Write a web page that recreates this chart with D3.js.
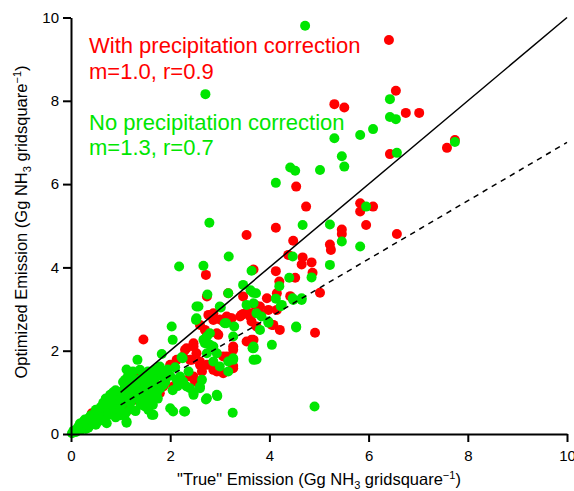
<!DOCTYPE html>
<html>
<head>
<meta charset="utf-8">
<title>Optimized vs true emission</title>
<script src="https://cdn.jsdelivr.net/npm/d3@7"></script>
<style>
  body { margin: 0; background: #fff; }
  text { font-family: Arial, "Liberation Sans", sans-serif; }
  .axis path, .axis line { stroke: #000; stroke-width: 2; }
  .axis text { font-size: 15px; fill: #000; }
</style>
</head>
<body>
<div id="chart"></div>
<script>
// axis ticks
var xTicks = [0, 2, 4, 6, 8, 10];
var yTicks = [0, 2, 4, 6, 8, 10];

// fit lines (x ends, y ends)
var lineX = [1, 10];
var solidY = [1, 10];
var dashedY = [0.7, 7];

// with precipitation correction (red)
var redPts = [
  [6.41,9.46],[6.55,8.24],[6.75,7.71],[7.02,7.71],[5.31,7.92],[5.51,7.84],[6.43,6.72],[7.58,6.87],[7.74,7.06],[6.57,4.80],
  [4.54,5.94],[4.74,5.46],[5.83,5.54],[5.83,5.34],[6.09,5.46],[5.95,5.02],[5.46,4.91],[5.46,4.80],[5.22,4.55],[5.24,4.42],
  [3.54,4.78],[4.13,4.95],[4.48,4.64],[4.38,4.30],[4.67,4.24],[4.65,4.07],[4.85,4.12],[4.87,3.87],[4.13,3.91],[2.72,3.82],
  [4.52,3.75],[4.20,3.66],[5.02,3.39],[3.17,3.38],[3.47,3.30],[3.95,3.26],[3.81,3.06],[3.47,2.88],[4.42,3.31],[4.15,3.38],
  [2.84,2.86],[3.00,2.75],[3.21,2.78],[3.41,2.82],[3.61,2.82],[3.74,2.58],[4.05,2.62],[4.21,2.50],[2.60,2.62],[2.70,2.50],
  [3.68,2.26],[4.92,2.43],[3.27,2.10],[2.97,2.38],[3.68,3.95],[1.46,2.27],[2.74,3.30],[2.87,2.90],[3.14,2.82],[3.54,2.90],
  [2.47,2.18],[2.33,2.06],[2.53,1.94],[2.26,1.86],[2.43,1.78],[2.60,1.74],[2.74,1.66],[2.13,1.78],[2.00,1.66],[1.86,1.50],
  [1.73,1.38],[3.27,2.02],[3.07,1.86],[3.27,1.58],[2.87,1.54],[3.07,1.46],[3.54,2.22],[3.64,2.70],[3.71,3.10],[2.74,2.42],
  [2.94,2.42],[1.32,1.42],[1.19,0.98],[1.26,0.82],[0.45,0.50],[2.40,1.38],[2.20,1.22],[4.08,2.62],[2.47,2.10],[2.40,1.78],
  [2.60,1.66],[2.64,1.50],[2.47,1.38],[2.50,1.26],[2.94,1.50],[3.27,1.63],[3.14,1.86],[3.64,2.26],[2.77,2.86],[2.87,2.74],
  [3.07,2.70],[3.24,2.78],[3.44,2.86],[3.61,2.90],[3.81,2.90],[3.98,2.98],[4.15,2.98],[1.12,0.91],[0.42,0.50],[1.19,0.62],
  [2.06,1.14],[1.86,1.14],[1.79,0.98],[2.30,2.02],[1.16,0.58],[1.55,1.25],[1.65,1.05],[1.40,1.15],[1.00,0.85],[0.80,0.70],
  [0.60,0.55],[1.10,1.00],[0.90,0.75],[0.30,0.25],[0.20,0.18],[0.15,0.10]
];

// no precipitation correction (green)
var greenPts = [
  [4.72,9.80],[2.71,8.16],[6.43,8.04],[6.43,7.61],[6.55,7.56],[6.57,6.75],[7.74,7.01],[5.31,7.10],[5.83,7.18],[6.09,7.32],
  [5.46,6.67],[5.51,6.42],[4.42,6.40],[4.52,6.32],[5.02,6.34],[4.13,6.03],[2.79,5.07],[4.67,5.02],[5.22,5.03],[5.95,5.46],
  [5.46,4.62],[5.83,4.50],[3.18,4.26],[4.47,4.26],[5.22,4.06],[4.85,3.76],[4.40,3.75],[2.67,4.04],[2.18,4.02],[3.64,3.92],
  [3.47,3.58],[3.67,3.39],[3.62,3.45],[4.20,3.55],[4.23,3.07],[4.13,3.25],[4.65,3.26],[4.47,3.26],[2.75,3.35],[3.00,3.06],
  [3.13,2.66],[3.29,2.58],[3.98,2.67],[3.81,2.50],[3.84,2.82],[4.54,2.58],[4.05,2.14],[3.68,2.10],[3.27,2.34],[2.80,2.42],
  [2.67,2.26],[3.17,3.38],[3.73,3.38],[3.68,3.14],[3.54,3.10],[3.74,2.90],[2.53,3.06],[2.53,2.78],[3.10,2.66],[2.03,2.58],
  [2.05,2.26],[2.74,2.34],[2.80,2.14],[1.83,1.92],[2.23,1.84],[3.27,1.78],[3.68,2.06],[3.68,1.78],[1.34,1.78],[1.12,1.55],
  [1.39,1.54],[1.59,1.30],[1.86,1.38],[2.13,1.30],[2.33,1.14],[2.60,1.14],[2.47,0.98],[2.74,0.86],[2.94,0.94],[2.00,0.62],
  [2.06,0.54],[2.28,0.54],[3.26,0.51],[1.39,0.94],[1.12,0.27],[0.79,0.94],[0.75,0.74],[1.63,0.46],[1.49,0.66],[1.86,1.18],
  [1.09,1.30],[2.57,3.06],[3.02,3.04],[4.25,3.10],[4.48,3.22],[4.65,3.22],[2.52,2.74],[3.98,2.70],[4.54,2.56],[2.70,2.18],
  [2.87,2.10],[2.74,1.94],[2.94,1.94],[2.87,1.74],[3.00,1.62],[3.17,1.74],[3.27,1.82],[3.17,1.50],[3.66,2.06],[3.74,1.79],
  [2.25,1.82],[2.37,1.50],[2.26,1.26],[2.40,1.10],[2.47,0.94],[2.64,1.30],[2.60,1.10],[2.72,0.83],[2.95,0.91],[2.30,0.54],
  [4.91,0.66],[1.79,1.62],[1.86,1.46],[1.73,1.38],[2.20,1.38],[0.72,0.74],[0.79,0.62],[1.22,1.10],[1.53,0.94],[1.73,0.98],
  [1.56,0.58],[1.12,0.30],[0.99,0.66],[1.59,0.90],[1.66,0.46],[0.72,0.26],[0.50,0.22],[0.30,0.12],[0.90,0.40],[1.00,0.45],
  [0.02,0.02],[0.05,0.04],[0.08,0.06],[0.10,0.10],[0.12,0.08],[0.15,0.12],[0.18,0.15],[0.20,0.20],[0.22,0.16],[0.25,0.22],
  [0.28,0.20],[0.30,0.28],[0.32,0.24],[0.35,0.30],[0.38,0.27],[0.40,0.35],[0.42,0.30],[0.45,0.40],[0.48,0.34],[0.50,0.45],
  [0.52,0.38],[0.55,0.50],[0.58,0.42],[0.60,0.55],[0.62,0.46],[0.65,0.60],[0.68,0.50],[0.70,0.65],[0.72,0.55],[0.75,0.58],
  [0.78,0.70],[0.80,0.62],[0.82,0.80],[0.85,0.66],[0.88,0.90],[0.90,0.72],[0.92,0.85],[0.95,0.78],[0.98,1.00],[1.00,0.82],
  [1.02,0.70],[1.05,0.90],[1.08,1.10],[1.10,0.80],[1.15,0.95],[1.18,1.20],[1.20,0.85],[1.25,1.05],[1.30,0.90],[1.30,1.25],
  [1.35,1.10],[1.40,0.80],[1.45,1.00],[1.50,1.20],[1.55,0.85],[1.60,1.10],[1.65,1.00],[1.70,1.20],[1.75,0.85],[0.55,0.30],
  [0.35,0.15],[0.65,0.35],[0.85,0.50],[0.95,0.60],[0.40,0.45],[0.60,0.65],[1.00,0.60],[1.20,0.60],[0.20,0.10],[0.90,1.05],
  [1.45,1.40],[1.60,1.45],[1.20,1.35],[1.05,1.25],[1.15,1.40],[1.25,1.50],[1.35,1.30],[1.50,1.05],[1.55,1.50],[1.65,1.30],
  [1.70,1.55],[1.80,1.10],[1.90,1.25],[1.95,1.55],[2.00,1.40],[2.05,1.05],[2.10,1.60],[2.15,1.15],[1.40,0.70],[1.30,0.55],
  [1.10,0.50],[0.95,0.95],[0.85,1.00],[0.70,0.85],[0.65,0.75],[0.60,0.40],[0.75,0.45],[0.80,0.85],[1.20,0.75],[1.35,0.85],
  [1.50,0.75],[1.65,0.70],[1.75,1.05],[0.45,0.28],[0.35,0.38],[0.25,0.30],[0.15,0.18],[0.10,0.05],[0.05,0.08],[0.18,0.25],
  [0.28,0.35],[0.50,0.58],[0.68,0.72]
];

var width = 574, height = 491;
var red = "#ff0000", green = "#00e600";

var svg = d3.select("#chart").append("svg")
  .attr("width", width)
  .attr("height", height);

var x = d3.scaleLinear().domain([0, 10]).range([71, 567]);
var y = d3.scaleLinear().domain([0, 10]).range([434, 17.5]);

// points
svg.append("g").selectAll("circle")
  .data(redPts)
  .enter().append("circle")
  .attr("cx", function(d) { return x(d[0]); })
  .attr("cy", function(d) { return y(d[1]); })
  .attr("r", 5)
  .attr("fill", red);

svg.append("g").selectAll("circle")
  .data(greenPts)
  .enter().append("circle")
  .attr("cx", function(d) { return x(d[0]); })
  .attr("cy", function(d) { return y(d[1]); })
  .attr("r", 5)
  .attr("fill", green);

// 1:1 and dashed lines
var line = d3.line()
  .x(function(d) { return x(d[0]); })
  .y(function(d) { return y(d[1]); });

svg.append("path")
  .attr("d", line(lineX.map(function(v, i) { return [v, solidY[i]]; })))
  .attr("stroke", "#000").attr("stroke-width", 1.5).attr("fill", "none");

svg.append("path")
  .attr("d", line(lineX.map(function(v, i) { return [v, dashedY[i]]; })))
  .attr("stroke", "#000").attr("stroke-width", 1.5).attr("fill", "none")
  .attr("stroke-dasharray", "5.5,5");

// axes
svg.append("g")
  .attr("class", "axis")
  .attr("transform", "translate(0,434)")
  .call(d3.axisBottom(x).tickValues(xTicks).tickFormat(d3.format("d"))
    .tickSize(8).tickSizeOuter(0).tickPadding(8));

svg.append("g")
  .attr("class", "axis")
  .attr("transform", "translate(71,0)")
  .call(d3.axisLeft(y).tickValues(yTicks).tickFormat(d3.format("d"))
    .tickSize(8).tickSizeOuter(0).tickPadding(4));

// axis titles
function unitLabel(sel, prefix) {
  sel.append("tspan").text(prefix + " (Gg NH");
  sel.append("tspan").attr("font-size", "11px").attr("dy", 4).text("3");
  sel.append("tspan").attr("dy", -4).text(" gridsquare");
  sel.append("tspan").attr("font-size", "11px").attr("dy", -6).text("\u22121");
  sel.append("tspan").attr("dy", 6).text(")");
}

var xl = svg.append("text")
  .attr("x", 319).attr("y", 485)
  .attr("text-anchor", "middle")
  .attr("font-size", "16.5px");
unitLabel(xl, "\"True\" Emission");

var yl = svg.append("text")
  .attr("transform", "translate(27,222) rotate(-90)")
  .attr("text-anchor", "middle")
  .attr("font-size", "16.5px");
unitLabel(yl, "Optimized Emission");

// annotations
var notes = [
  { t: "With precipitation correction", c: red, y: 53 },
  { t: "m=1.0, r=0.9", c: red, y: 79 },
  { t: "No precipitation correction", c: green, y: 130 },
  { t: "m=1.3, r=0.7", c: green, y: 155 }
];
svg.selectAll(".note").data(notes).enter().append("text")
  .attr("class", "note")
  .attr("x", 89)
  .attr("y", function(d) { return d.y; })
  .attr("fill", function(d) { return d.c; })
  .attr("font-size", "22px")
  .text(function(d) { return d.t; });
</script>
</body>
</html>
